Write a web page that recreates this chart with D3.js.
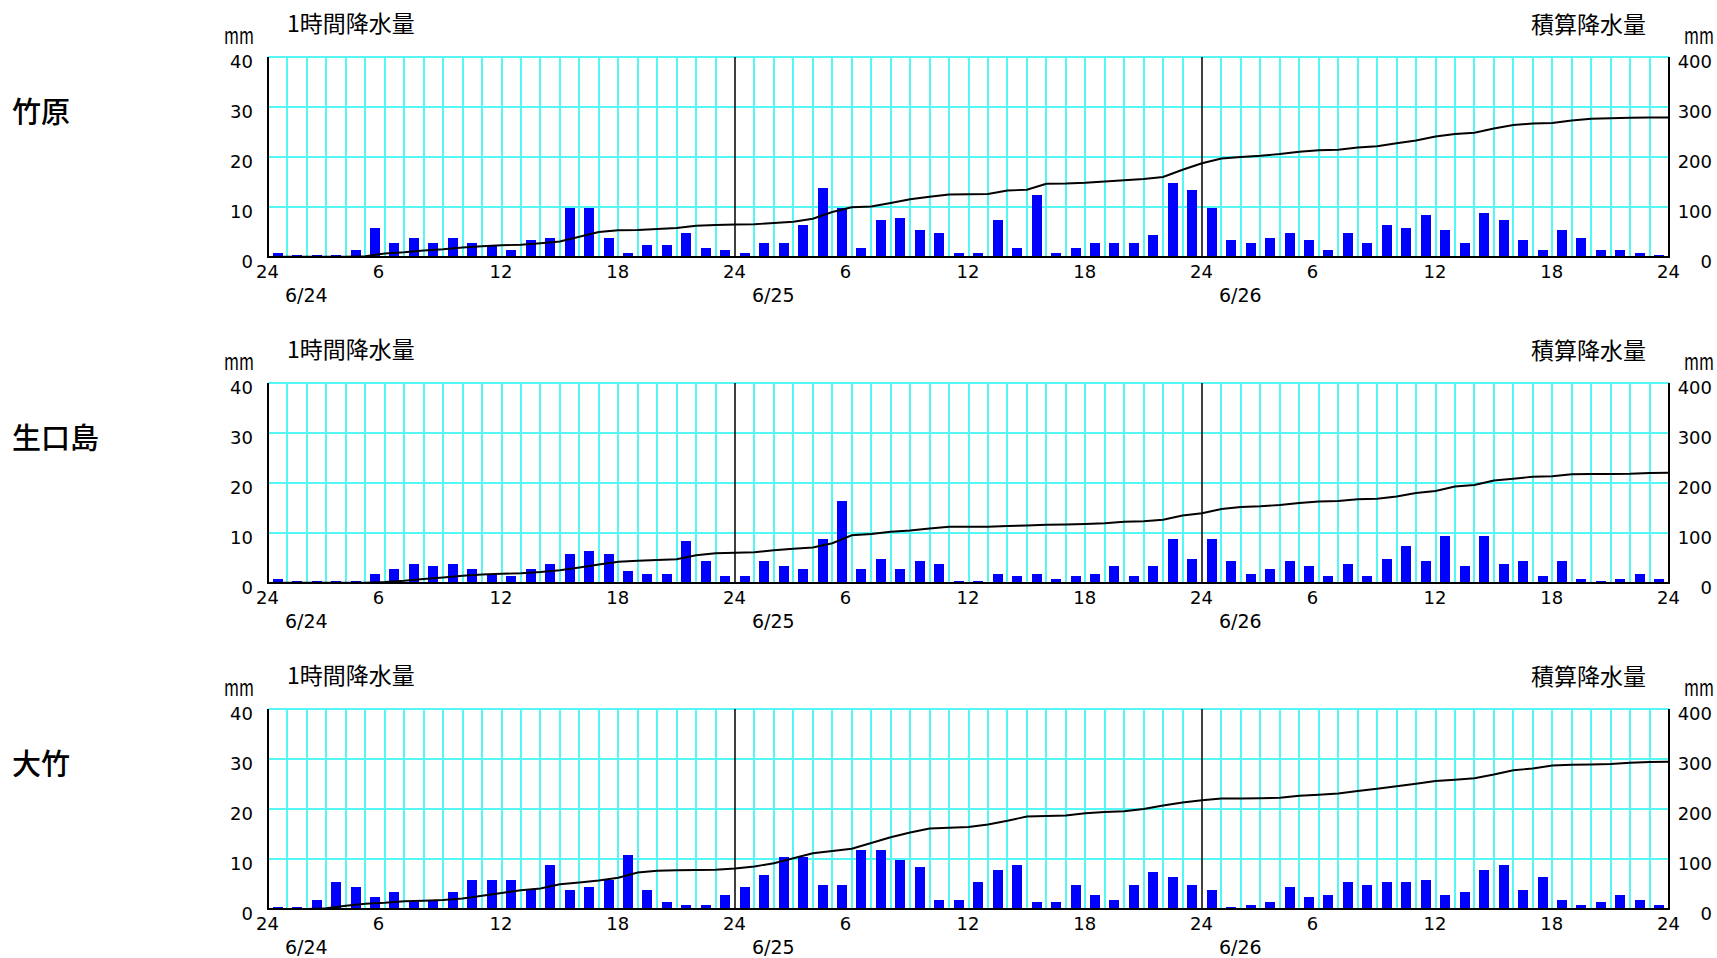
<!DOCTYPE html>
<html lang="ja">
<head>
<meta charset="utf-8">
<title>降水量</title>
<script src="https://cdn.jsdelivr.net/npm/d3@7"></script>
<style>
body { margin: 0; background: #fff; }
svg { display: block; background: #fff; }
.num { font-family: "DejaVu Sans", sans-serif; font-size: 18px; fill: #000; }
.jp { font-family: "Noto Sans CJK JP", sans-serif; fill: #000; }
</style>
</head>
<body>
<script>
// stations and hourly rain (mm), 6/24 01:00 .. 6/27 00:00
var stations = ["竹原", "生口島", "大竹"];
var dayLabels = ["6/24", "6/25", "6/26"];
var hourTicks = [0, 6, 12, 18, 24, 30, 36, 42, 48, 54, 60, 66, 72];
var hourLabels = ["24", "6", "12", "18", "24", "6", "12", "18", "24", "6", "12", "18", "24"];
var leftTicks = [0, 10, 20, 30, 40];
var rightTicks = [0, 100, 200, 300, 400];

var rainTakehara = [
  0.5, 0, 0, 0, 1, 5.5, 2.5, 3.5, 2.5, 3.5, 2.5, 2, 1, 3, 3.5, 9.5, 9.5, 3.5, 0.5, 2, 2, 4.5, 1.5, 1,
  0.5, 2.5, 2.5, 6, 13.5, 9.5, 1.5, 7, 7.5, 5, 4.5, 0.5, 0.5, 7, 1.5, 12, 0.5, 1.5, 2.5, 2.5, 2.5, 4, 14.5, 13,
  9.5, 3, 2.5, 3.5, 4.5, 3, 1, 4.5, 2.5, 6, 5.5, 8, 5, 2.5, 8.5, 7, 3, 1, 5, 3.5, 1, 1, 0.5, 0
];
var rainIkuchijima = [
  0.5, 0, 0, 0, 0, 1.5, 2.5, 3.5, 3, 3.5, 2.5, 1.5, 1, 2.5, 3.5, 5.5, 6, 5.5, 2, 1.5, 1.5, 8, 4, 1,
  1, 4, 3, 2.5, 8.5, 16, 2.5, 4.5, 2.5, 4, 3.5, 0, 0, 1.5, 1, 1.5, 0.5, 1, 1.5, 3, 1, 3, 8.5, 4.5,
  8.5, 4, 1.5, 2.5, 4, 3, 1, 3.5, 1, 4.5, 7, 4, 9, 3, 9, 3.5, 4, 1, 4, 0.5, 0, 0.5, 1.5, 0.5
];
var rainOtake = [
  0, 0, 1.5, 5, 4, 2, 3, 1, 1.5, 3, 5.5, 5.5, 5.5, 3.5, 8.5, 3.5, 4, 5.5, 10.5, 3.5, 1, 0.5, 0.5, 2.5,
  4, 6.5, 10, 10, 4.5, 4.5, 11.5, 11.5, 9.5, 8, 1.5, 1.5, 5, 7.5, 8.5, 1, 1, 4.5, 2.5, 1.5, 4.5, 7, 6, 4.5,
  3.5, 0, 0.5, 1, 4, 2, 2.5, 5, 4.5, 5, 5, 5.5, 2.5, 3, 7.5, 8.5, 3.5, 6, 1.5, 0.5, 1, 2.5, 1.5, 0.5
];
var rainSeries = [rainTakehara, rainIkuchijima, rainOtake];

var width = 1717,
    height = 958,
    gridColor = "#55f6f6";

var svg = d3.select("body").append("svg")
    .attr("width", width)
    .attr("height", height);

var x = d3.scaleLinear().domain([0, 72]).range([268, 1669]);

rainSeries.forEach(function(rain, k) {
  var top = 57 + 326 * k,
      bottom = top + 200;
  var yL = d3.scaleLinear().domain([0, 40]).range([bottom, top]);
  var yR = d3.scaleLinear().domain([0, 400]).range([bottom, top]);
  var g = svg.append("g").attr("class", "panel");

  // grid
  g.selectAll(".hgrid").data(leftTicks.slice(1)).enter().append("line")
    .attr("x1", x(0)).attr("x2", x(72))
    .attr("y1", function(d) { return yL(d); })
    .attr("y2", function(d) { return yL(d); })
    .attr("stroke", gridColor).attr("stroke-width", 2)
    .attr("shape-rendering", "crispEdges");

  g.selectAll(".vgrid").data(d3.range(1, 72).filter(function(h) { return h % 24 != 0; })).enter().append("line")
    .attr("x1", function(d) { return x(d); })
    .attr("x2", function(d) { return x(d); })
    .attr("y1", top).attr("y2", bottom)
    .attr("stroke", gridColor).attr("stroke-width", 2)
    .attr("shape-rendering", "crispEdges");

  // hourly bars
  g.selectAll(".bar").data(rain).enter().append("rect")
    .attr("x", function(d, i) { return x(i + 0.5) - 5; })
    .attr("y", function(d) { return yL(d) - 2; })
    .attr("width", 10)
    .attr("height", function(d) { return yL(0) - yL(d) + 2; })
    .attr("fill", "#0000ff")
    .attr("shape-rendering", "crispEdges");

  // day separators and frame
  g.selectAll(".day").data([24, 48]).enter().append("line")
    .attr("x1", function(d) { return x(d); })
    .attr("x2", function(d) { return x(d); })
    .attr("y1", top).attr("y2", bottom)
    .attr("stroke", "#000").attr("stroke-width", 1.5);

  g.append("path")
    .attr("d", "M" + x(0) + "," + top + "V" + bottom + "H" + x(72) + "V" + top)
    .attr("fill", "none").attr("stroke", "#000").attr("stroke-width", 2);

  // cumulative rain
  var cum = [0].concat(Array.from(d3.cumsum(rain)));
  g.append("path")
    .datum(cum)
    .attr("fill", "none")
    .attr("stroke", "#000")
    .attr("stroke-width", 1.9)
    .attr("d", d3.line()
      .x(function(d, i) { return x(i); })
      .y(function(d) { return yR(d); }));

  // left axis labels
  g.selectAll(".yl").data(leftTicks).enter().append("text")
    .attr("class", "num")
    .attr("x", 253)
    .attr("y", function(d) { return yL(d) + 11; })
    .attr("text-anchor", "end")
    .text(function(d) { return d; });

  // right axis labels
  g.selectAll(".yr").data(rightTicks).enter().append("text")
    .attr("class", "num")
    .attr("x", 1712)
    .attr("y", function(d) { return yR(d) + 11; })
    .attr("text-anchor", "end")
    .text(function(d) { return d; });

  // hour labels
  g.selectAll(".xl").data(hourTicks).enter().append("text")
    .attr("class", "num")
    .attr("x", function(d) { return x(d) - 12; })
    .attr("y", bottom + 21)
    .text(function(d, i) { return hourLabels[i]; });

  // date labels
  g.selectAll(".dl").data(dayLabels).enter().append("text")
    .attr("class", "num")
    .style("font-size", "19px")
    .attr("x", function(d, i) { return x(i * 24) + 17; })
    .attr("y", bottom + 45)
    .text(function(d) { return d; });

  // units and titles
  g.append("text").attr("class", "jp").style("font-size", "17px")
    .attr("transform", "translate(254," + (top - 13) + ") scale(0.95,1.35)")
    .attr("text-anchor", "end").text("mm");
  g.append("text").attr("class", "jp").style("font-size", "17px")
    .attr("transform", "translate(1714," + (top - 13) + ") scale(0.95,1.35)")
    .attr("text-anchor", "end").text("mm");
  g.append("text").attr("class", "jp").style("font-size", "23px")
    .attr("x", 287).attr("y", top - 25).text("1時間降水量");
  g.append("text").attr("class", "jp").style("font-size", "23px")
    .attr("x", 1646).attr("y", top - 24).attr("text-anchor", "end").text("積算降水量");

  // station name
  g.append("text").attr("class", "jp").style("font-size", "29px")
    .style("font-weight", 500)
    .attr("x", 12).attr("y", top + 66)
    .text(stations[k]);
});
</script>
</body>
</html>
